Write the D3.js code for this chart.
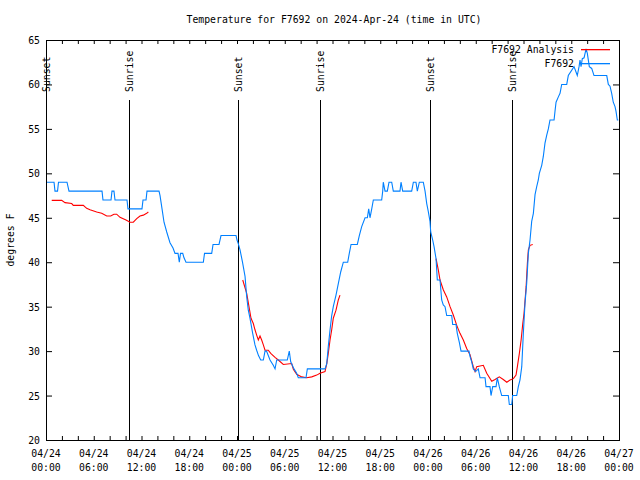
<!DOCTYPE html>
<html><head><meta charset="utf-8">
<script src="https://cdn.jsdelivr.net/npm/d3@7"></script>
<style>body{margin:0;background:#fff}svg{display:block}</style>
</head><body><svg id="c" width="640" height="480"></svg>
<script>
const titleText = "Temperature for F7692 on 2024-Apr-24 (time in UTC)";
const yLabelText = "degrees F";
const seriesNames = ["F7692 Analysis", "F7692"];
const seriesColors = ["#ff0000", "#0080ff"];
const startTime = "2024-04-24T00:00:00Z";
const endTime = "2024-04-27T00:00:00Z";
const yTicks = [20, 25, 30, 35, 40, 45, 50, 55, 60, 65];
const xLabelHours = [0, 6, 12, 18, 24, 30, 36, 42, 48, 54, 60, 66, 72];
const sunNames = ["Sunset", "Sunrise", "Sunset", "Sunrise", "Sunset", "Sunrise"];
const sunHours = [0.02, 10.43, 24.12, 34.43, 48.22, 58.57];

// Observations (hours since 04/24 00:00 UTC, degrees F)
const obsHours = [0.00,1.01,1.13,1.45,1.57,2.64,2.89,7.04,7.16,8.17,8.29,8.54,8.67,10.18,10.30,12.06,12.19,12.57,12.69,14.20,14.33,14.58,14.83,15.17,15.58,15.96,16.21,16.59,16.75,16.90,17.18,17.34,17.59,19.77,19.92,20.82,20.99,21.74,21.99,23.88,24.00,24.16,24.38,24.69,25.01,25.22,25.42,25.63,25.97,26.26,26.47,26.70,26.98,27.31,27.52,27.71,28.15,28.56,28.78,28.99,30.32,30.57,30.75,31.16,31.50,31.70,32.67,32.84,35.06,35.28,35.47,35.69,35.90,36.10,36.44,36.73,37.03,37.36,37.91,38.11,38.33,39.12,39.37,39.67,40.09,40.38,40.55,40.71,40.93,41.13,42.18,42.31,42.38,42.60,42.89,43.10,43.44,43.64,44.48,44.61,44.82,45.95,46.16,46.49,46.66,46.91,47.41,47.63,47.84,48.04,48.25,48.34,48.59,48.76,49.01,49.17,49.51,49.72,49.92,50.14,50.35,50.98,51.10,51.52,51.68,51.93,52.15,53.15,53.28,53.49,53.69,53.99,54.32,54.54,55.17,55.29,55.79,55.92,56.13,56.55,56.71,56.96,57.26,58.09,58.22,58.52,58.64,59.15,59.35,59.56,59.78,59.98,60.19,60.40,60.61,60.82,61.03,61.24,61.45,61.66,61.86,61.99,62.29,62.49,62.70,62.92,63.12,63.33,63.84,63.96,64.09,64.38,64.59,64.80,65.43,65.63,66.35,66.60,66.76,66.98,67.10,67.23,67.39,67.61,67.86,68.02,68.27,68.57,68.86,70.46,70.66,70.87,71.08,71.28,71.50,71.62,71.79,71.91];
const obsTemps = [49,49,48,48,49,49,48,48,47,47,48,48,47,47,46,46,47,47,48,48,47.5,46,44.5,43.4,42.2,41.6,41,41,40,41,41,40.5,40,40,41,41,42,42,43,43,42.5,42.1,41.4,40,38.4,36.1,34.6,33.7,32,30.7,30.1,29.5,29,29,30,30,29,28.4,28,29,29,30,28.8,28,27.5,27,27,28,28,28.6,30.5,32.4,34,35,36.3,37.6,38.9,40,40,41,42,42,43,44,45,45,46,45,46,47,47,48,49,48,48,49,49,48,48,49,48,48,49,49,48,49,49,48,46.6,45.7,44.6,43.4,42.5,41.75,40.4,38,38,35.75,35.2,35,34,34,33,33,32,31,30,30,29.4,28.8,28,27.7,28,27,27,26,26,25,26,26,27,26,25,25,24,24,25,25,26,26.75,28.25,32,35.4,37.6,41,42.5,44.6,45.5,47.6,48.5,49.25,50,50.9,51.9,53.4,54.3,55,56,56,57,58,58.6,59,60,60,61,62,61.4,61,62,62.75,62,62.9,63,64,63.5,62,61.8,61,61,60,59.8,59,58,57.5,57,56,56];

// Analysis (null separates segments)
const anaHours = [0.72,1.97,2.39,3.23,3.43,4.69,5.11,5.53,6.37,7.00,7.63,8.13,8.54,8.88,9.30,10.05,10.56,10.97,11.40,11.81,12.23,12.65,12.86,null,
  24.72,25.22,25.76,26.05,26.26,26.47,26.68,26.89,27.10,27.31,27.52,27.93,28.24,28.78,29.19,29.82,30.87,31.08,31.50,32.13,32.76,33.39,34.02,34.43,35.06,35.28,35.47,35.69,35.90,36.10,36.44,36.73,36.94,null,
  49.01,49.30,49.51,49.92,50.35,50.77,51.18,51.61,52.02,52.44,52.86,53.28,53.69,53.91,54.12,54.95,55.38,56.01,56.42,56.96,57.46,57.90,58.31,58.73,59.06,59.23,59.48,59.70,59.91,60.07,60.33,60.49,60.61,60.82,61.16];
const anaTemps = [46.96,46.96,46.7,46.6,46.4,46.4,46.06,45.9,45.65,45.5,45.2,45.2,45.4,45.4,45.05,44.75,44.5,44.5,44.9,45.2,45.3,45.5,45.65,null,
  38,36.5,33.7,33.1,32.4,31.8,31.25,31.7,31.25,30.7,30.1,30.1,29.75,29.3,29,28.5,28.6,27.95,27.4,27.1,27.0,27.1,27.3,27.5,27.7,28.6,29.75,31.25,32.4,33.7,34.6,35.75,36.3,null,
  40.4,39.1,38,36.9,36.1,35,34.06,32.9,32,31.25,30.3,29.6,28.25,27.7,28.25,28.4,27.5,26.6,26.8,27.1,26.8,26.5,26.75,26.9,27.3,28.25,29.75,31.25,33.1,34.25,37.25,39.9,41.4,41.9,42];

const FONT = "'DejaVu Sans Mono', 'Liberation Mono', monospace";
const CW = 5.9;
const svg = d3.select("#c");
const t0 = new Date(startTime);
const hr = h => new Date(t0.getTime() + h * 3600e3);
const x = d3.scaleUtc().domain([t0, new Date(endTime)]).range([46, 619]);
const y = d3.scaleLinear().domain([20, 65]).range([440, 40]);

function label(g, s, px, py, anchor, transform) {
  const t = g.append("text").attr("x", px).attr("y", py)
    .attr("font-family", FONT).attr("font-size", 11).attr("fill", "#000")
    .attr("text-anchor", anchor)
    .attr("textLength", s.length * CW).attr("lengthAdjust", "spacingAndGlyphs")
    .text(s);
  if (transform) t.attr("transform", transform);
  return t;
}

// axes ticks (inward)
const gx = svg.append("g").attr("transform", "translate(0,440)")
  .call(d3.axisBottom(x).ticks(d3.utcHour.every(2)).tickSize(-4).tickFormat(""));
const gxt = svg.append("g").attr("transform", "translate(0,40)")
  .call(d3.axisTop(x).ticks(d3.utcHour.every(2)).tickSize(-4).tickFormat(""));
const gy = svg.append("g").attr("transform", "translate(46,0)")
  .call(d3.axisLeft(y).tickValues(yTicks).tickSize(-6).tickFormat(""));
const gyr = svg.append("g").attr("transform", "translate(619,0)")
  .call(d3.axisRight(y).tickValues(yTicks).tickSize(-6).tickFormat(""));
[gx, gxt, gy, gyr].forEach(g => { g.select(".domain").remove(); g.selectAll("line").attr("stroke", "#000"); });

// tick labels
const yl = svg.append("g");
yTicks.forEach(v => label(yl, String(v), 40, y(v) + 4, "end"));
const xl = svg.append("g");
const fd = d3.utcFormat("%m/%d"), ft = d3.utcFormat("%H:%M");
xLabelHours.forEach(h => {
  const px = x(hr(h));
  label(xl, fd(hr(h)), px, 457, "middle");
  label(xl, ft(hr(h)), px, 471, "middle");
});

// title & y label
label(svg, titleText, 334, 23, "middle");
label(svg, yLabelText, 0, 0, "middle", "translate(14,240) rotate(-90)");

// sunrise / sunset markers
const sg = svg.append("g");
sunHours.forEach((h, i) => {
  const px = Math.round(x(hr(h))) + 0.5;
  sg.append("line").attr("x1", px).attr("x2", px).attr("y1", 100).attr("y2", 440)
    .attr("stroke", "#000").attr("stroke-width", 1);
  label(sg, sunNames[i], 0, 0, "start", `translate(${px + 3.5},92) rotate(-90)`);
});

// data lines
const line = d3.line()
  .defined(d => d[0] != null && d[1] != null)
  .x(d => x(hr(d[0]))).y(d => y(d[1]));
const ana = anaHours.map((h, i) => [h, anaTemps[i]]);
const obs = obsHours.map((h, i) => [h, obsTemps[i]]);
svg.append("path").attr("d", line(ana)).attr("fill", "none")
  .attr("stroke", seriesColors[0]).attr("stroke-width", 1.1);
svg.append("path").attr("d", line(obs)).attr("fill", "none")
  .attr("stroke", seriesColors[1]).attr("stroke-width", 1.1);

// border
svg.append("rect").attr("x", 46.5).attr("y", 40.5).attr("width", 573).attr("height", 400)
  .attr("fill", "none").attr("stroke", "#000").attr("stroke-width", 1);

// legend
const lg = svg.append("g");
seriesNames.forEach((n, i) => {
  const ly = 49 + i * 13.5;
  label(lg, n, 574, ly + 4, "end");
  lg.append("rect").attr("x", 581).attr("y", Math.round(ly)).attr("width", 29).attr("height", 1.3)
    .attr("fill", seriesColors[i]);
});
</script></body></html>
